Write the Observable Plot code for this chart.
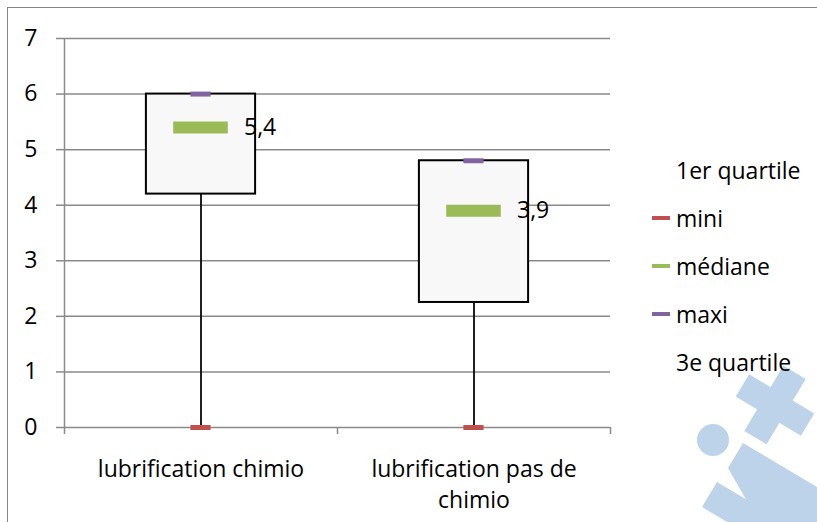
<!DOCTYPE html>
<html>
<head>
<meta charset="utf-8">
<script src="https://cdn.jsdelivr.net/npm/d3@7"></script>
<script src="https://cdn.jsdelivr.net/npm/@observablehq/plot@0.6"></script>
<style>
  html, body { margin: 0; padding: 0; background: #ffffff; }
  #wrap { position: relative; width: 817px; height: 522px; overflow: hidden; font-family: "Open Sans", sans-serif; color: #000; }
  #border { position: absolute; left: 7px; top: 7px; width: 900px; height: 900px; border-top: 1.5px solid #868686; border-left: 1.5px solid #868686; box-sizing: border-box; }
  #wm { position: absolute; left: 0; top: 0; }
  #chart { position: absolute; left: 0; top: 0; }
  #legend { position: absolute; left: 652px; top: 146px; font-size: 23px; }
  .row { height: 48px; display: flex; align-items: center; }
  .sw { width: 18px; height: 4px; margin-right: 6px; }
</style>
</head>
<body>
<div id="wrap">
  <svg id="wm" width="817" height="522">
    <g fill="#bdd3ea">
      <circle cx="713" cy="440" r="16"></circle>
      <polygon points="728,468 743,443 817,487 817,522 759,522"></polygon>
      <polygon points="702,507 717,482 784,522 727,522"></polygon>
      <g transform="translate(775,405) rotate(31)">
        <rect x="-38" y="-13" width="76" height="26"></rect>
        <rect x="-13" y="-38" width="26" height="76"></rect>
      </g>
    </g>
  </svg>
  <div id="border"></div>
  <div id="chart"></div>
  <div id="legend"></div>
</div>
<script>
// ---- data ----
const categories = ["lubrification chimio", "lubrification pas de chimio"];
const categoryLabels = ["lubrification chimio", "lubrification pas de\nchimio"];
const q1Values = [4.2, 2.25];
const medianValues = [5.4, 3.9];
const q3Values = [6.0, 4.8];
const minValues = [0, 0];
const maxValues = [6.0, 4.8];
const yTicks = [0, 1, 2, 3, 4, 5, 6, 7];
const legendNames = ["1er quartile", "mini", "médiane", "maxi", "3e quartile"];
const legendColors = [null, "#c0504d", "#9bbb59", "#8064a2", null];

// ---- build table ----
const rows = categories.map((c, i) => ({
  cat: c, pos: i + 0.5,
  q1: q1Values[i], median: medianValues[i], q3: q3Values[i],
  min: minValues[i], max: maxValues[i]
}));

const BOX = 0.2, MED = 0.1, END = 0.037;
const grid = "#8a8a8a";
const fmt = v => String(v).replace(".", ",");

const chart = Plot.plot({
  width: 817,
  height: 522,
  marginLeft: 64,
  marginRight: 207,
  marginTop: 38,
  marginBottom: 95,
  style: { background: "transparent", fontFamily: "'Open Sans', sans-serif", fontSize: "23px", color: "#000" },
  x: { domain: [0, categories.length], axis: null, label: null },
  y: { domain: [0, 7], axis: null, label: null },
  marks: [
    Plot.ruleY(yTicks, { y: d => d, stroke: grid, strokeWidth: 1.5 }),
    Plot.axisY({ ticks: yTicks, label: null, tickSize: 8, tickPadding: 19, stroke: grid, strokeWidth: 1.5, fontSize: 23, tickFormat: d => d, color: "#000" }),
    Plot.ruleX([0], { y1: 0, y2: 7, stroke: grid, strokeWidth: 1.5 }),
    Plot.axisX({ ticks: d3.range(categories.length + 1), label: null, tickSize: 7, tickFormat: () => "", stroke: grid, strokeWidth: 1.5 }),
    Plot.axisX({ ticks: rows.map(d => d.pos), label: null, tickSize: 0, tickPadding: 27, fontSize: 23, lineHeight: 1.35,
      tickFormat: d => categoryLabels[Math.round(d - 0.5)] }),
    Plot.ruleX(rows, { x: "pos", y1: "min", y2: "q1", stroke: "#000", strokeWidth: 1.75 }),
    Plot.ruleX(rows, { x: "pos", y1: "q3", y2: "max", stroke: "#000", strokeWidth: 1.75 }),
    Plot.rect(rows, { x1: d => d.pos - BOX, x2: d => d.pos + BOX, y1: "q1", y2: "q3", fill: "#f8f8f8", stroke: "#000", strokeWidth: 2 }),
    Plot.ruleY(rows, { y: "min", x1: d => d.pos - END, x2: d => d.pos + END, stroke: "#c0504d", strokeWidth: 5 }),
    Plot.ruleY(rows, { y: "max", x1: d => d.pos - END, x2: d => d.pos + END, stroke: "#8064a2", strokeWidth: 5 }),
    Plot.ruleY(rows, { y: "median", x1: d => d.pos - MED, x2: d => d.pos + MED, stroke: "#9bbb59", strokeWidth: 12 }),
    Plot.text(rows, { x: "pos", y: "median", text: d => fmt(d.median), textAnchor: "start", dx: 43, fontSize: 23, fill: "#000" })
  ]
});
document.getElementById("chart").appendChild(chart);

// ---- legend ----
const leg = document.getElementById("legend");
legendNames.forEach((name, i) => {
  const r = document.createElement("div");
  r.className = "row";
  const sw = document.createElement("span");
  sw.className = "sw";
  sw.style.background = legendColors[i] || "transparent";
  const t = document.createElement("span");
  t.textContent = name;
  r.appendChild(sw); r.appendChild(t);
  leg.appendChild(r);
});
</script>
</body>
</html>
